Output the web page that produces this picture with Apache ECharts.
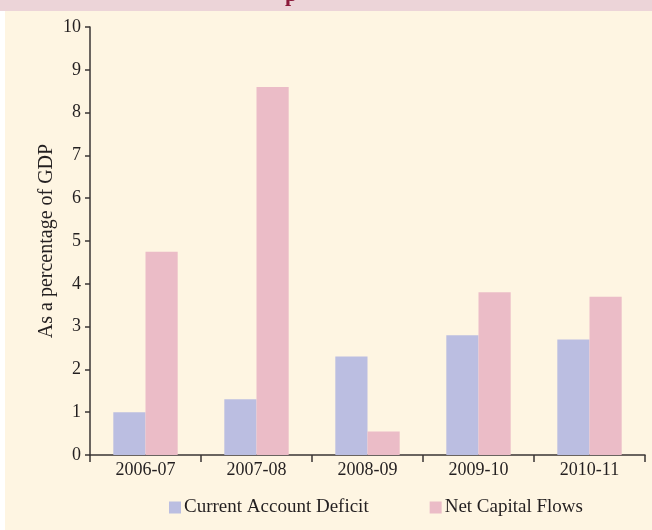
<!DOCTYPE html>
<html lang="en">
<head>
    <meta charset="utf-8" />
    <title>Current Account Deficit and Net Capital Flows</title>
    <script src="https://cdn.jsdelivr.net/npm/echarts@6/dist/echarts.min.js"></script>
    <style>
        html, body { margin: 0; padding: 0; background: #ffffff; }
        #main { width: 652px; height: 530px; }
    </style>
</head>
<body>
    <div id="main"></div>
    <script type="text/javascript">
        // data
        var years = ['2006-07', '2007-08', '2008-09', '2009-10', '2010-11'];
        var currentAccountDeficit = [1.0, 1.3, 2.3, 2.8, 2.7];
        var netCapitalFlows = [4.75, 8.6, 0.55, 3.8, 3.7];

        var myChart = echarts.init(document.getElementById('main'));
        var serif = '"Liberation Serif", "DejaVu Serif", serif';

        var option = {
            animation: false,
            backgroundColor: '#ffffff',
            textStyle: { fontFamily: serif, color: '#231f20' },
            graphic: [
                // cream panel and the pink band at the top
                { type: 'rect', z: -10, shape: { x: 5, y: 0, width: 647, height: 530 }, style: { fill: '#fef5e2' } },
                { type: 'rect', z: -9, shape: { x: 0, y: 0, width: 652, height: 11 }, style: { fill: '#ecd4d8' } },
                { type: 'text', z: -8, left: 285, top: -16, style: { text: 'p', font: 'bold 22px ' + serif, fill: '#8b1a3a' } }
            ],
            grid: { left: 90, right: 7, top: 27, bottom: 75 },
            legend: {
                bottom: 8,
                left: 164,
                itemWidth: 12,
                itemHeight: 12,
                itemGap: 61,
                icon: 'rect',
                textStyle: { fontFamily: serif, fontSize: 19, color: '#231f20', padding: [0, 0, 0, -2] },
                data: ['Current Account Deficit', 'Net Capital Flows']
            },
            xAxis: {
                type: 'category',
                data: years,
                axisLine: { lineStyle: { color: '#3a3535', width: 1.5 } },
                axisTick: { show: true, length: 7, lineStyle: { color: '#3a3535', width: 1.5 } },
                axisLabel: { fontFamily: serif, fontSize: 18, color: '#231f20', margin: 6 }
            },
            yAxis: {
                type: 'value',
                min: 0,
                max: 10,
                interval: 1,
                name: 'As a percentage of GDP',
                nameLocation: 'middle',
                nameGap: 33,
                nameMoveOverlap: false,
                nameTextStyle: { fontFamily: serif, fontSize: 20, color: '#231f20' },
                splitLine: { show: false },
                axisLine: { show: true, lineStyle: { color: '#3a3535', width: 1.5 } },
                axisTick: { show: true, length: 5, lineStyle: { color: '#3a3535', width: 1.5 } },
                axisLabel: { fontFamily: serif, fontSize: 18, color: '#231f20', margin: 9 }
            },
            series: [
                {
                    name: 'Current Account Deficit',
                    type: 'bar',
                    data: currentAccountDeficit,
                    barGap: '0%',
                    barCategoryGap: '42%',
                    itemStyle: { color: '#bbbee1' }
                },
                {
                    name: 'Net Capital Flows',
                    type: 'bar',
                    data: netCapitalFlows,
                    itemStyle: { color: '#ebbcc7' }
                }
            ]
        };

        myChart.setOption(option);

        window.onresize = function () {
            myChart.resize();
        };
    </script>
</body>
</html>
